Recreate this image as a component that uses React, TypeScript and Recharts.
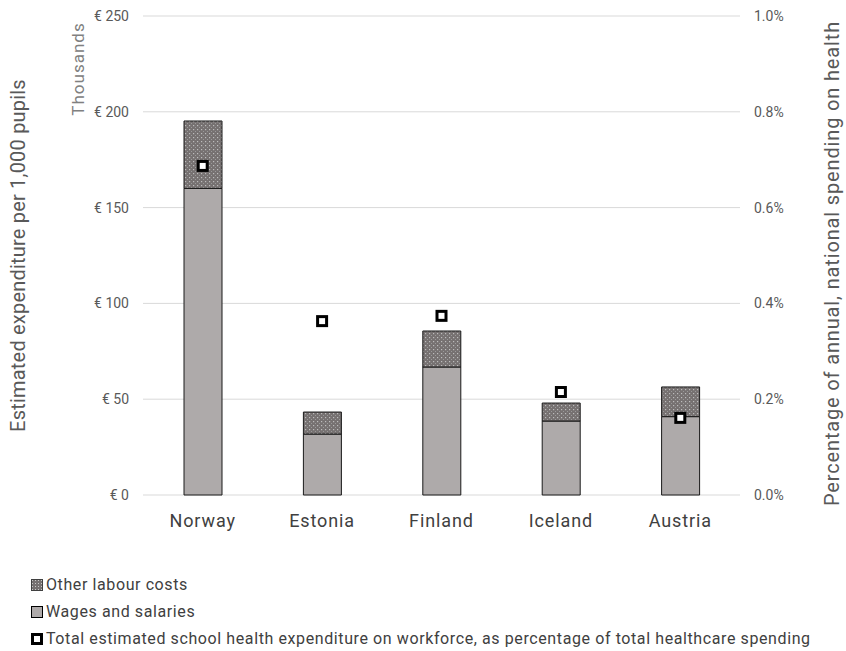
import React from "react";
import { ComposedChart, Bar, Line, XAxis, YAxis, CartesianGrid } from "recharts";

const countries = ["Norway", "Estonia", "Finland", "Iceland", "Austria"];
const wages = [160, 31.8, 66.8, 38.6, 40.9];
const otherLabour = [35.2, 11.5, 18.8, 9.4, 15.5];
const pctHealth = [0.00687, 0.00363, 0.00374, 0.00215, 0.00161];
const leftTicks = [0, 50, 100, 150, 200, 250];
const rightTicks = [0, 0.002, 0.004, 0.006, 0.008, 0.01];

const data = countries.map((c, i) => ({
  country: c,
  wages: wages[i],
  other: otherLabour[i],
  pct: pctHealth[i],
}));

const FONT = "Roboto, 'Noto Sans', sans-serif";

const Marker = (props: any) => {
  const { cx, cy } = props;
  if (cx == null || cy == null) return null;
  return <rect x={cx - 4.5} y={cy - 4.5} width={9} height={9} fill="#ffffff" stroke="#000000" strokeWidth={3} />;
};

const LeftLabel = (props: any) => {
  const vb = props.viewBox;
  const cx = vb.x + 18;
  const cy = vb.y + vb.height / 2;
  return (
    <g>
      <text x={cx} y={cy} transform={`rotate(-90 ${cx} ${cy})`} textAnchor="middle" dominantBaseline="central" fontSize={20} fill="#595959" fontFamily={FONT} letterSpacing={0.2}>
        Estimated expenditure per 1,000 pupils
      </text>
      <text x={vb.x + 78} y={vb.y + 53} transform={`rotate(-90 ${vb.x + 78} ${vb.y + 53})`} textAnchor="middle" dominantBaseline="central" fontSize={17} fill="#808080" fontFamily={FONT} letterSpacing={1}>
        Thousands
      </text>
    </g>
  );
};

const RightLabel = (props: any) => {
  const vb = props.viewBox;
  const cx = vb.x + 92;
  const cy = vb.y + vb.height / 2 + 8;
  return (
    <text x={cx} y={cy} transform={`rotate(-90 ${cx} ${cy})`} textAnchor="middle" dominantBaseline="central" fontSize={20} fill="#595959" fontFamily={FONT} letterSpacing={0.85}>
      Percentage of annual, national spending on health
    </text>
  );
};

const legendItems = [
  { key: "other", label: "Other labour costs" },
  { key: "wages", label: "Wages and salaries" },
  { key: "pct", label: "Total estimated school health expenditure on workforce, as percentage of total healthcare spending" },
];

const Swatch = ({ kind }: { kind: string }) => (
  <svg width={12} height={12} style={{ display: "block" }}>
    <defs>
      <pattern id={`lp-${kind}`} width={3} height={3} patternUnits="userSpaceOnUse">
        <rect width={3} height={3} fill="#767171" />
        <rect x={1} y={1} width={1} height={1} fill="#c8c8c8" />
      </pattern>
    </defs>
    {kind === "other" && <rect x={0.5} y={0.5} width={11} height={11} fill={`url(#lp-${kind})`} stroke="#404040" strokeWidth={1} />}
    {kind === "wages" && <rect x={0.5} y={0.5} width={11} height={11} fill="#aeaaaa" stroke="#000" strokeWidth={1} />}
    {kind === "pct" && <rect x={1.5} y={1.5} width={9} height={9} fill="#fff" stroke="#000" strokeWidth={3} />}
  </svg>
);

export default function App() {
  return (
    <div style={{ position: "absolute", left: 0, top: 0, width: 846, height: 651, background: "#fff", fontFamily: FONT }}>
      <ComposedChart width={846} height={651} data={data} margin={{ top: 16, right: 0, bottom: 116, left: 0 }}>
        <defs>
          <pattern id="dots" width={4} height={4} patternUnits="userSpaceOnUse">
            <rect width={4} height={4} fill="#767171" />
            <rect x={1} y={1} width={1.2} height={1.2} fill="#bdbdbd" />
            <rect x={3} y={3} width={1} height={1} fill="#9a9a9a" />
          </pattern>
        </defs>
        <CartesianGrid vertical={false} stroke="#d9d9d9" yAxisId="left" />
        <XAxis
          dataKey="country"
          axisLine={false}
          tickLine={false}
          tickSize={0}
          tickMargin={19}
          height={40}
          tick={{ fontSize: 18, fill: "#404040", fontFamily: FONT, letterSpacing: 0.9 }}
        />
        <YAxis
          yAxisId="left"
          orientation="left"
          width={143}
          domain={[0, 250]}
          ticks={leftTicks}
          axisLine={false}
          tickLine={false}
          tickSize={0}
          tickMargin={14}
          tickFormatter={(v: number) => `€ ${v}`}
          tick={{ fontSize: 14, fill: "#595959", fontFamily: FONT }}
          label={<LeftLabel />}
        />
        <YAxis
          yAxisId="right"
          orientation="right"
          width={106}
          domain={[0, 0.01]}
          ticks={rightTicks}
          axisLine={false}
          tickLine={false}
          tickSize={0}
          tickMargin={14}
          tickFormatter={(v: number) => `${(v * 100).toFixed(1)}%`}
          tick={{ fontSize: 14, fill: "#595959", fontFamily: FONT }}
          label={<RightLabel />}
        />
        <Bar yAxisId="left" dataKey="wages" stackId="a" barSize={38} fill="#aeaaaa" stroke="#1a1a1a" strokeWidth={1} isAnimationActive={false} />
        <Bar yAxisId="left" dataKey="other" stackId="a" barSize={38} fill="url(#dots)" stroke="#1a1a1a" strokeWidth={1} isAnimationActive={false} />
        <Line yAxisId="right" dataKey="pct" stroke="none" dot={<Marker />} activeDot={false} isAnimationActive={false} />
      </ComposedChart>
      <div style={{ position: "absolute", left: 31, top: 571, fontSize: 16, color: "#404040", lineHeight: "27px", letterSpacing: "0.6px" }}>
        {legendItems.map((it) => (
          <div key={it.key} style={{ display: "flex", alignItems: "center", height: 27 }}>
            <Swatch kind={it.key} />
            <span style={{ marginLeft: 3, whiteSpace: "nowrap" }}>{it.label}</span>
          </div>
        ))}
      </div>
    </div>
  );
}
